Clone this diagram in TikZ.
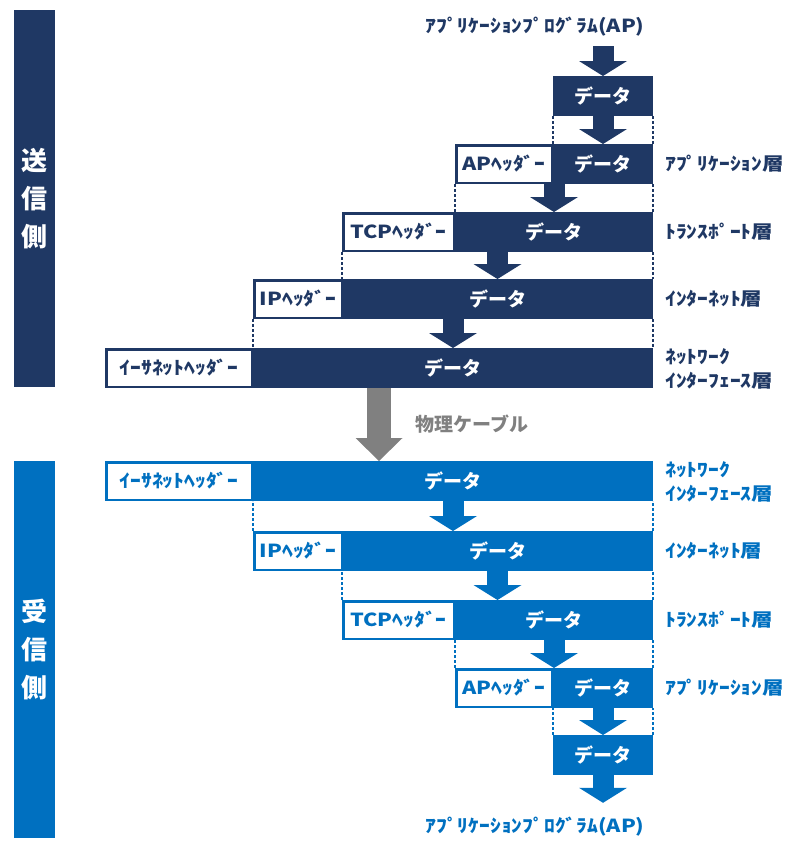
\documentclass[tikz,border=0pt]{standalone}
\usepackage{fontspec}
\setmainfont{Noto Sans CJK JP}
\newfontfamily\hw{Noto Sans CJK JP}[FakeStretch=1.2]
\usetikzlibrary{arrows.meta,calc}

\definecolor{navy}{HTML}{1F3864}
\definecolor{blu}{HTML}{0070C0}
\definecolor{cable}{HTML}{808080}

\tikzset{
    datbox/.style={fill=#1, text=white, inner sep=0pt, outer sep=0pt, minimum height=40pt,
        font=\bfseries\fontsize{19}{19}\selectfont},
    hdrbox/.style={draw=#1, fill=white, text=#1, line width=2.5pt, inner sep=0pt, minimum height=37.5pt,
        font=\hw\bfseries\fontsize{18}{18}\selectfont},
    lyr/.style={text=#1, anchor=west, align=left, inner sep=0pt, font=\hw\bfseries\fontsize{18}{24}\selectfont},
    aplbl/.style={text=#1, inner sep=0pt, font=\hw\bfseries\fontsize{18}{18}\selectfont},
    side/.style={fill=#1, text=white, minimum width=41pt, minimum height=377pt, inner sep=0pt, align=center,
        font=\bfseries\fontsize{26}{38}\selectfont},
    dots/.style={draw=#1, line width=2pt, dash pattern=on 3pt off 2pt},
    blk/.style={draw=#1, line width=21pt, -{Triangle[width=48pt,length=15pt,line width=0pt]}},
}

\begin{document}
\begin{tikzpicture}[x=1pt,y=-1pt]
    \useasboundingbox (0,0) rectangle (801,860);

    % 送信側
    \node[side=navy] (sSide) at (34.5,198.5) {送\\信\\側};
    \node[aplbl=navy, minimum height=38pt] (sTop) at (535,27) {ｱﾌﾟﾘｹｰｼｮﾝﾌﾟﾛｸﾞﾗﾑ(AP)};
    \node[datbox=navy, minimum width=100pt] (sD0) at (603,96) {データ};
    \node[hdrbox=navy, minimum width=95.5pt] (sAPh) at (504,164) {APﾍｯﾀﾞｰ};
    \node[datbox=navy, minimum width=100pt] (sAPd) at (603,164) {データ};
    \node[hdrbox=navy, minimum width=110.5pt] (sTCPh) at (398.5,232) {TCPﾍｯﾀﾞｰ};
    \node[datbox=navy, minimum width=198pt] (sTCPd) at (554,232) {データ};
    \node[hdrbox=navy, minimum width=87.5pt] (sIPh) at (298,299) {IPﾍｯﾀﾞｰ};
    \node[datbox=navy, minimum width=310pt] (sIPd) at (498,299) {データ};
    \node[hdrbox=navy, minimum width=145.5pt] (sEthh) at (179,368) {ｲｰｻﾈｯﾄﾍｯﾀﾞｰ};
    \node[datbox=navy, minimum width=400pt] (sEthd) at (453,368) {データ};

    \node[lyr=navy] (sAPl) at (665,164) {ｱﾌﾟﾘｹｰｼｮﾝ層};
    \node[lyr=navy] (sTCPl) at (665,232) {ﾄﾗﾝｽﾎﾟｰﾄ層};
    \node[lyr=navy] (sIPl) at (665,299) {ｲﾝﾀｰﾈｯﾄ層};
    \node[lyr=navy] (sEthl) at (665,369) {ﾈｯﾄﾜｰｸ\\ｲﾝﾀｰﾌｪｰｽ層};

    \coordinate (sAPc) at ($(sAPh.south west)!.5!(sAPd.south east)$);
    \coordinate (sTCPc) at ($(sTCPh.south west)!.5!(sTCPd.south east)$);
    \coordinate (sIPc) at ($(sIPh.south west)!.5!(sIPd.south east)$);
    \coordinate (sEthc) at ($(sEthh.south west)!.5!(sEthd.south east)$);

    \draw[dots=navy] (sD0.south west) -- (sD0.south west |- sAPd.north);
    \draw[dots=navy] (sD0.south east) -- (sD0.south east |- sAPd.north);
    \draw[dots=navy] (sAPh.south west) -- (sAPh.south west |- sTCPd.north);
    \draw[dots=navy] (sAPd.south east) -- (sAPd.south east |- sTCPd.north);
    \draw[dots=navy] (sTCPh.south west) -- (sTCPh.south west |- sIPd.north);
    \draw[dots=navy] (sTCPd.south east) -- (sTCPd.south east |- sIPd.north);
    \draw[dots=navy] (sIPh.south west) -- (sIPh.south west |- sEthd.north);
    \draw[dots=navy] (sIPd.south east) -- (sIPd.south east |- sEthd.north);

    \draw[blk=navy] (sD0 |- sTop.south) -- (sD0.north);
    \draw[blk=navy] (sD0.south) -- (sD0.south |- sAPd.north);
    \draw[blk=navy] (sAPc) -- (sAPc |- sTCPd.north);
    \draw[blk=navy] (sTCPc) -- (sTCPc |- sIPd.north);
    \draw[blk=navy] (sIPc) -- (sIPc |- sEthd.north);

    % 受信側
    \node[side=blu] (rSide) at (34.5,649.5) {受\\信\\側};
    \node[hdrbox=blu, minimum width=145.5pt] (rEthh) at (179,481) {ｲｰｻﾈｯﾄﾍｯﾀﾞｰ};
    \node[datbox=blu, minimum width=400pt] (rEthd) at (453,481) {データ};
    \node[hdrbox=blu, minimum width=87.5pt] (rIPh) at (298,551) {IPﾍｯﾀﾞｰ};
    \node[datbox=blu, minimum width=310pt] (rIPd) at (498,551) {データ};
    \node[hdrbox=blu, minimum width=110.5pt] (rTCPh) at (398.5,620) {TCPﾍｯﾀﾞｰ};
    \node[datbox=blu, minimum width=198pt] (rTCPd) at (554,620) {データ};
    \node[hdrbox=blu, minimum width=95.5pt] (rAPh) at (504,688) {APﾍｯﾀﾞｰ};
    \node[datbox=blu, minimum width=100pt] (rAPd) at (603,688) {データ};
    \node[datbox=blu, minimum width=100pt] (rD0) at (603,755) {データ};
    \node[aplbl=blu, minimum height=48pt] (rBot) at (535,827) {ｱﾌﾟﾘｹｰｼｮﾝﾌﾟﾛｸﾞﾗﾑ(AP)};

    \node[lyr=blu] (rEthl) at (665,482) {ﾈｯﾄﾜｰｸ\\ｲﾝﾀｰﾌｪｰｽ層};
    \node[lyr=blu] (rIPl) at (665,551) {ｲﾝﾀｰﾈｯﾄ層};
    \node[lyr=blu] (rTCPl) at (665,620) {ﾄﾗﾝｽﾎﾟｰﾄ層};
    \node[lyr=blu] (rAPl) at (665,688) {ｱﾌﾟﾘｹｰｼｮﾝ層};

    \coordinate (rIPc) at ($(rIPh.north west)!.5!(rIPd.north east)$);
    \coordinate (rTCPc) at ($(rTCPh.north west)!.5!(rTCPd.north east)$);
    \coordinate (rAPc) at ($(rAPh.north west)!.5!(rAPd.north east)$);

    \draw[dots=blu] (rIPh.north west) -- (rIPh.north west |- rEthd.south);
    \draw[dots=blu] (rIPd.north east) -- (rIPd.north east |- rEthd.south);
    \draw[dots=blu] (rTCPh.north west) -- (rTCPh.north west |- rIPd.south);
    \draw[dots=blu] (rTCPd.north east) -- (rTCPd.north east |- rIPd.south);
    \draw[dots=blu] (rAPh.north west) -- (rAPh.north west |- rTCPd.south);
    \draw[dots=blu] (rAPd.north east) -- (rAPd.north east |- rTCPd.south);
    \draw[dots=blu] (rD0.north west) -- (rD0.north west |- rAPd.south);
    \draw[dots=blu] (rD0.north east) -- (rD0.north east |- rAPd.south);

    \draw[blk=blu] (rIPc |- rEthd.south) -- (rIPc);
    \draw[blk=blu] (rTCPc |- rIPd.south) -- (rTCPc);
    \draw[blk=blu] (rAPc |- rTCPd.south) -- (rAPc);
    \draw[blk=blu] (rD0 |- rAPd.south) -- (rD0.north);
    \draw[blk=blu] (rD0.south) -- (rD0 |- rBot.north);

    % 物理ケーブル
    \draw[draw=cable, line width=24pt, -{Triangle[width=47pt,length=23pt,line width=0pt]}] (sEthc) -- (sEthc |- rEthd.north);
    \node[text=cable, anchor=west, inner sep=0pt, font=\bfseries\fontsize{19}{19}\selectfont] (cbl) at (415,424) {物理ケーブル};
\end{tikzpicture}
\end{document}
